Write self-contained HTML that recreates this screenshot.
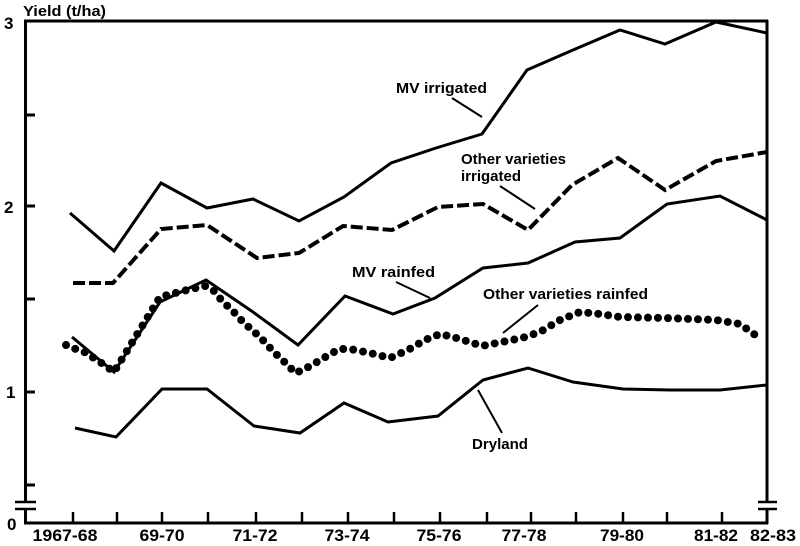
<!DOCTYPE html>
<html><head><meta charset="utf-8"><style>
html,body{margin:0;padding:0;background:#fff;}
svg{display:block;}
text{font-family:"Liberation Sans",Arial,sans-serif;fill:#000;}
.t{font-size:17px;font-weight:bold;}
.a{font-size:15px;font-weight:bold;}
</style></head><body>
<svg width="800" height="546" viewBox="0 0 800 546" xmlns="http://www.w3.org/2000/svg">
<g stroke="#000" stroke-width="3" fill="none" stroke-linecap="butt">
  <!-- frame -->
  <line x1="24" y1="21" x2="768" y2="21"/>
  <line x1="25.5" y1="20" x2="25.5" y2="502"/>
  <line x1="25.5" y1="509" x2="25.5" y2="524"/>
  <line x1="767" y1="20" x2="767" y2="502"/>
  <line x1="767" y1="509" x2="767" y2="524"/>
  <line x1="24" y1="523" x2="768" y2="523"/>
  <!-- breaks -->
  <line x1="15" y1="502" x2="36" y2="502" stroke-width="2.5"/>
  <line x1="15" y1="509" x2="36" y2="509" stroke-width="2.5"/>
  <line x1="758" y1="502" x2="777" y2="502" stroke-width="2.5"/>
  <line x1="758" y1="509" x2="777" y2="509" stroke-width="2.5"/>
  <!-- y ticks -->
  <line x1="25" y1="115" x2="35" y2="115"/>
  <line x1="25" y1="206" x2="35" y2="206"/>
  <line x1="25" y1="299" x2="35" y2="299"/>
  <line x1="25" y1="392" x2="35" y2="392"/>
  <line x1="25" y1="485" x2="35" y2="485"/>
  <!-- x ticks -->
  <g stroke-width="2.5">
  <line x1="73" y1="512" x2="73" y2="523"/>
  <line x1="117" y1="512" x2="117" y2="523"/>
  <line x1="162" y1="512" x2="162" y2="523"/>
  <line x1="208" y1="512" x2="208" y2="523"/>
  <line x1="256" y1="512" x2="256" y2="523"/>
  <line x1="302" y1="512" x2="302" y2="523"/>
  <line x1="348" y1="512" x2="348" y2="523"/>
  <line x1="394" y1="512" x2="394" y2="523"/>
  <line x1="440" y1="512" x2="440" y2="523"/>
  <line x1="487" y1="512" x2="487" y2="523"/>
  <line x1="531" y1="512" x2="531" y2="523"/>
  <line x1="576" y1="512" x2="576" y2="523"/>
  <line x1="623" y1="512" x2="623" y2="523"/>
  <line x1="667" y1="512" x2="667" y2="523"/>
  <line x1="722" y1="512" x2="722" y2="523"/>
  </g>

  <!-- MV irrigated -->
  <polyline stroke-linejoin="miter" points="70,213 114,251 161,183 207,208 253,199 299,221 344,197 391,163 436,148 482,134 527,70 573,50 620,30 665,44 716,22 767,33"/>
  <!-- Other varieties irrigated (dashed) -->
  <polyline stroke-width="4" stroke-dasharray="12 4" points="73,283 113,283 161,229 207,225 257,258 299,253 343,226 392,230 438,207 483,204 528,230 572,185 618,158 665,190 716,161 767,152"/>
  <!-- MV rainfed -->
  <polyline points="72,337 114,372 160,302 206,280 253,312 298,345 345,296 393,314 435,298 483,268 528,263 575,242 620,238 667,204 720,196 767,220"/>
  <!-- Dryland -->
  <polyline points="75,428 116,437 162,389 207,389 254,426 300,433 344,403 388,422 438,416 483,380 528,368 573,382 623,389 670,390 720,390 767,385"/>
  <!-- Other varieties rainfed (dotted) -->
  <polyline stroke-width="8" stroke-linecap="round" stroke-dasharray="0 10" stroke-linejoin="round" points="66,345 78,350 87,353 95,359 103,364 114,372 160,297 183,291 205,286 213,290 223,302 232,310 243,322 252,330 260,337 272,350 280,358 288,365 295,373 303,370 317,362 332,353 340,349 350,349 370,353 390,358 408,350 425,340 440,334 453,337 473,343 482,346 502,342 522,338 540,332 560,320 580,312 600,314 620,317 665,318 716,320 740,324 758,337"/>

  <!-- leader lines -->
  <g stroke-width="2">
  <line x1="452" y1="98" x2="482" y2="117"/>
  <line x1="500" y1="186" x2="535" y2="209"/>
  <line x1="396" y1="282" x2="430" y2="298"/>
  <line x1="538" y1="305" x2="503" y2="333"/>
  <line x1="478" y1="390" x2="502" y2="433"/>
  </g>
</g>

<!-- axis labels -->
<text class="a" x="23" y="16" font-size="14" textLength="83" lengthAdjust="spacingAndGlyphs">Yield (t/ha)</text>
<text class="t" x="4" y="29" font-size="16">3</text>
<text class="t" x="4" y="213" font-size="16">2</text>
<text class="t" x="6" y="398" font-size="16">1</text>
<text class="t" x="7" y="530" font-size="16">0</text>

<g class="t" text-anchor="middle">
<text x="65" y="541" textLength="65" lengthAdjust="spacingAndGlyphs">1967-68</text>
<text x="162" y="541" textLength="45" lengthAdjust="spacingAndGlyphs">69-70</text>
<text x="255" y="541" textLength="45" lengthAdjust="spacingAndGlyphs">71-72</text>
<text x="347" y="541" textLength="45" lengthAdjust="spacingAndGlyphs">73-74</text>
<text x="439" y="541" textLength="45" lengthAdjust="spacingAndGlyphs">75-76</text>
<text x="524" y="541" textLength="45" lengthAdjust="spacingAndGlyphs">77-78</text>
<text x="622" y="541" textLength="44" lengthAdjust="spacingAndGlyphs">79-80</text>
<text x="716" y="541" textLength="44" lengthAdjust="spacingAndGlyphs">81-82</text>
<text x="773" y="541" textLength="46" lengthAdjust="spacingAndGlyphs">82-83</text>
</g>

<!-- series annotations -->
<text class="a" x="396" y="93" textLength="91" lengthAdjust="spacingAndGlyphs">MV irrigated</text>
<text class="a" x="461" y="164" textLength="105" lengthAdjust="spacingAndGlyphs">Other varieties</text>
<text class="a" x="461" y="181" textLength="60" lengthAdjust="spacingAndGlyphs">irrigated</text>
<text class="a" x="352" y="277" textLength="83" lengthAdjust="spacingAndGlyphs">MV rainfed</text>
<text class="a" x="483" y="299" textLength="165" lengthAdjust="spacingAndGlyphs">Other varieties rainfed</text>
<text class="a" x="472" y="449" textLength="56" lengthAdjust="spacingAndGlyphs">Dryland</text>
</svg>
</body></html>
